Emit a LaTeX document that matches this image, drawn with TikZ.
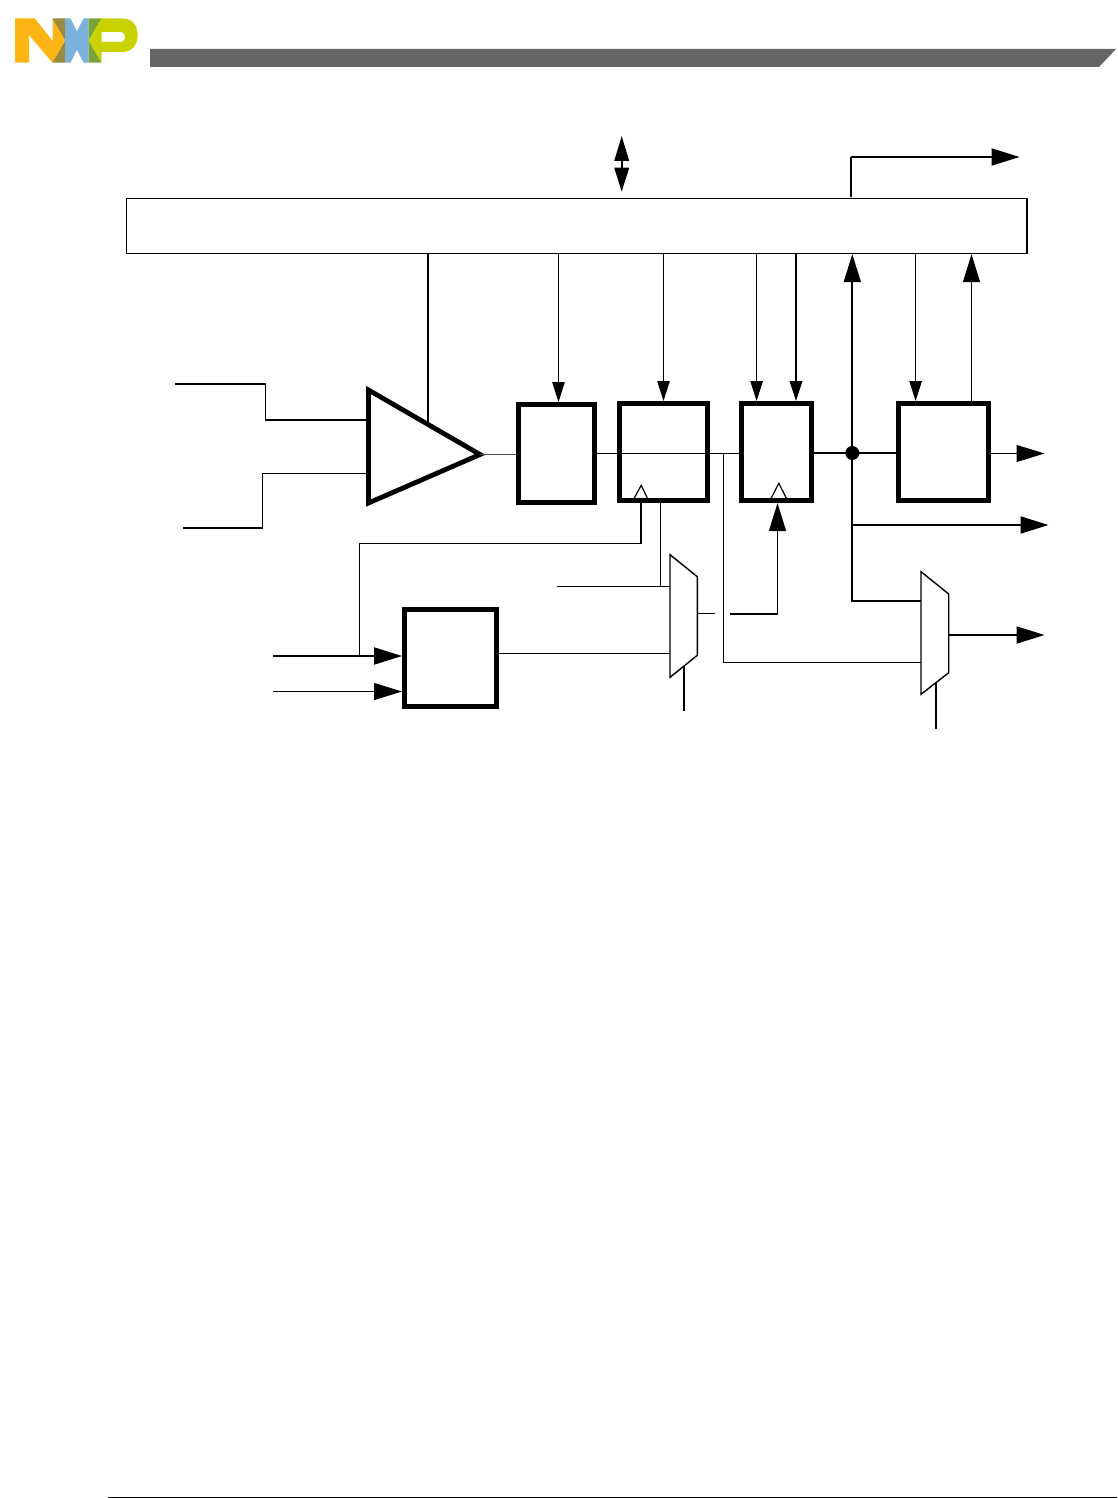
\documentclass[tikz,border=0pt]{standalone}
\usetikzlibrary{arrows.meta,calc}
\definecolor{nxporange}{HTML}{FDB515}
\definecolor{nxpolive}{HTML}{9B8A3C}
\definecolor{nxpblue}{HTML}{7BB1DB}
\definecolor{nxpgreen}{HTML}{7AA43A}
\definecolor{nxpyellow}{HTML}{C9D200}
\definecolor{barcol}{HTML}{666666}
\tikzset{
  block/.style={draw=black,line width=4.8pt,fill=none,inner sep=0pt},
  thin wire/.style={line width=1pt,draw=black},
  mid wire/.style={line width=1.4pt,draw=black},
  thick wire/.style={line width=2pt,draw=black},
  small head/.style={-{Triangle[length=20pt,width=12.5pt]}},
  big head/.style={-{Triangle[length=28pt,width=17pt]}},
  gate/.style={draw=black,line width=1.4pt,line join=miter,fill=white},
  clockmark/.style={draw=black,line width=1.2pt,line join=miter},
}
\begin{document}
\begin{tikzpicture}[x=1pt,y=-1pt]
\useasboundingbox (0,0) rectangle (1117,1498);
% header
\fill[barcol] (150,49) -- (1116,49) -- (1099,67) -- (150,67) -- cycle;
\draw[line width=1pt] (108,1497) -- (1117,1497);
% logo
\fill[nxporange] (15,18.5) -- (35,18.5) -- (52.5,41) -- (52.5,18.5) -- (65,40.5) -- (52.5,62.7) -- (52.5,62.7) -- (29,35) -- (29,62.7) -- (15,62.7) -- cycle;
\fill[nxpolive] (52.5,18.5) -- (65.2,18.5) -- (65.2,40.5) -- cycle;
\fill[nxpolive] (65.2,40.5) -- (65.2,62.7) -- (52.5,62.7) -- cycle;
\fill[nxpblue] (65.2,18.5) -- (70.5,18.5) -- (77,31.5) -- (83.5,18.5) -- (88.7,18.5) -- (88.7,62.7) -- (83.5,62.7) -- (77,49.5) -- (70.5,62.7) -- (65.2,62.7) -- cycle;
\fill[nxpgreen] (88.7,18.5) -- (101.5,18.5) -- (88.7,40.5) -- cycle;
\fill[nxpgreen] (88.7,40.5) -- (101.5,62.7) -- (88.7,62.7) -- cycle;
\fill[nxpyellow,even odd rule] (88.7,40.5) -- (101.5,18.5) -- (122,18.5) .. controls (132,18.5) and (137.7,25) .. (137.7,35) .. controls (137.7,45) and (132,52) .. (122,52) -- (101.5,52) -- (101.5,62.7) -- cycle
  (101.5,32) -- (120,32) .. controls (127,32) and (127,42) .. (120,42) -- (101.5,42) -- cycle;
% bus block
\node[draw=black,line width=1.3pt,inner sep=0pt,minimum width=900pt,minimum height=55pt] (bus) at (576.5,226) {};
\draw[line width=2.2pt] (bus.north east) -- (bus.south east);
% blocks
\node[block,minimum width=76.2pt,minimum height=98.2pt] (A) at (556.5,453.5) {};
\node[block,minimum width=88.2pt,minimum height=97.2pt] (B) at (663.5,452) {};
\node[block,minimum width=70.2pt,minimum height=97.2pt] (C) at (776.5,452) {};
\node[block,minimum width=90.2pt,minimum height=97.2pt] (D) at (943.5,452) {};
\node[block,minimum width=92.2pt,minimum height=97.2pt] (E) at (450.5,658) {};
% amplifier
\coordinate (ampTL) at (368.5,390);
\coordinate (ampTip) at (480,454.5);
\coordinate (ampBL) at (368.5,503);
\draw[line width=4.8pt,line join=miter,miter limit=10] (ampTL) -- (ampTip) -- (ampBL) -- cycle;
% mux 1 and 2
\coordinate (mOneA) at (670,554.7);
\coordinate (mOneB) at (697.3,576.7);
\coordinate (mOneC) at (697.3,655.3);
\coordinate (mOneD) at (670,677.3);
\coordinate (mTwoA) at (921,571.7);
\coordinate (mTwoB) at (948.7,594);
\coordinate (mTwoC) at (948.7,672.7);
\coordinate (mTwoD) at (921,694.3);
% free ends / routing points
\coordinate (inOne) at (175,384);
\coordinate (inOneMid) at (265.4,420);
\coordinate (inTwo) at (183,528);
\coordinate (inTwoMid) at (262.5,473.5);
\coordinate (ctlX) at (428,423);
\coordinate (arrA) at (558.5,300);
\coordinate (arrB) at (663.5,300);
\coordinate (arrC) at (756.6,300);
\coordinate (arrCb) at (796,300);
\coordinate (arrD) at (915.6,300);
\coordinate (arrUp) at (971.5,300);
\coordinate (busX) at (852.3,300);
\coordinate (sigY) at (700,453.5);
\coordinate (dotY) at (700,453);
\coordinate (branchX) at (723.5,453.5);
\coordinate (branchY) at (723.5,662.5);
\coordinate (outD) at (1044.5,453.5);
\coordinate (outMid) at (1048.5,525);
\coordinate (outMux) at (1044.5,635);
\coordinate (tapY) at (852.3,601);
\coordinate (midTap) at (852.3,525);
\coordinate (muxOneIn) at (557,586.5);
\coordinate (bSel) at (660.5,586.5);
\coordinate (stubEnd) at (715,613.5);
\coordinate (stubStart) at (697.3,613.5);
\coordinate (gapStart) at (730,614);
\coordinate (clkX) at (777.5,614);
\coordinate (sOneEnd) at (684,711);
\coordinate (sOneStart) at (684,666);
\coordinate (sTwoEnd) at (936,729);
\coordinate (sTwoStart) at (936,683);
\coordinate (ckB) at (641,543.5);
\coordinate (ckLeft) at (359.5,543.5);
\coordinate (eInA) at (273,656);
\coordinate (eInB) at (273,691.5);
\coordinate (eTipA) at (402,656);
\coordinate (eTipB) at (402,691.5);
\coordinate (eJoin) at (359.5,656);
\coordinate (eOut) at (497,653.3);
\coordinate (biTop) at (621.7,136);
\coordinate (biBot) at (621.7,191.7);
\coordinate (biMidA) at (621.7,164);
\coordinate (upStart) at (850.7,196.7);
\coordinate (upCorner) at (850.7,157);
\coordinate (upEnd) at (1019.5,157);
% input wires
\draw[line width=1.7pt] (inOne) -| (inOneMid) -- (inOneMid -| ampTL);
\draw[mid wire] (inTwo) -| (inTwoMid) -- (inTwoMid -| ampTL);
\draw[mid wire] (ctlX |- bus.south) -- (ctlX);
\draw[line width=1pt,draw=black!70] (ampTip) -- (ampTip -| A.west);
% arrows from bus
\draw[thin wire,small head] (arrA |- bus.south) -- (arrA |- A.north);
\draw[thin wire,small head] (arrB |- bus.south) -- (arrB |- B.north);
\draw[thin wire,small head] (arrC |- bus.south) -- (arrC |- C.north);
\draw[line width=1.8pt,small head] (arrCb |- bus.south) -- (arrCb |- C.north);
\draw[thin wire,small head] (arrD |- bus.south) -- (arrD |- D.north);
\draw[thin wire,big head] (arrUp |- D.north) -- (arrUp |- bus.south);
% main signal
\draw[thin wire] (sigY -| A.east) -- (sigY -| C.west);
\draw[thin wire] (branchX) -- (branchY) -- (branchY -| mTwoA);
\draw[thick wire] (dotY -| C.east) -- (dotY -| D.west);
\node[circle,fill=black,inner sep=0pt,minimum size=14pt] (dot) at (dotY -| busX) {};
\draw[thick wire,big head] (dot.center) -- (busX |- bus.south);
\draw[thin wire,big head] (sigY -| D.east) -- (outD);
\draw[thick wire,big head] (midTap) -- (outMid);
\draw[thick wire] (dot.center) -- (tapY) -- (tapY -| mTwoA);
% muxes
\draw[thin wire] (muxOneIn) -- (muxOneIn -| mOneA);
\draw[thin wire] (bSel |- B.south) -- (bSel);
\draw[thin wire] (eOut -| E.east) -- (eOut -| mOneA);
\draw[thin wire] (stubStart) -- (stubEnd);
\draw[line width=1.7pt] (gapStart) -- (clkX);
\draw[mid wire,big head] (clkX) -- (clkX |- C.south);
\draw[gate] (mOneA) -- (mOneB) -- (mOneC) -- (mOneD) -- cycle;
\draw[gate] (mTwoA) -- (mTwoB) -- (mTwoC) -- (mTwoD) -- cycle;
\draw[thick wire] (sOneStart) -- (sOneEnd);
\draw[thick wire] (sTwoStart) -- (sTwoEnd);
\draw[thick wire,big head] (mTwoB |- outMux) -- (outMux);
% clock marks
\draw[clockmark] ($(B.south)+(-30,-3.5)$) -- ($(B.south)+(-22.3,-17.7)$) -- ($(B.south)+(-15.5,-3.5)$);
\draw[clockmark] ($(C.south)+(-6,-3.5)$) -- ($(C.south)+(2.3,-19.7)$) -- ($(C.south)+(10.5,-3.5)$);
% clock wire
\draw[line width=1.7pt] (ckB |- B.south) -- (ckB) -- (ckLeft) -- (eJoin);
% block E inputs
\draw[thick wire,big head] (eInA) -- (eTipA);
\draw[thin wire,big head] (eInB) -- (eTipB);
% bidirectional and top-right arrow
\draw[line width=2pt,{Triangle[length=25pt,width=14.5pt]}-{Triangle[length=24pt,width=14.5pt]}] (biTop) -- (biBot);
\draw[line width=1pt,white] ($(biMidA)+(-8,0)$) -- ($(biMidA)+(-0.9,0)$) ($(biMidA)+(0.9,0)$) -- ($(biMidA)+(8,0)$);
\draw[thick wire] (upStart) -- (upCorner);
\draw[thick wire,big head] (upCorner) -- (upEnd);
\end{tikzpicture}
\end{document}
